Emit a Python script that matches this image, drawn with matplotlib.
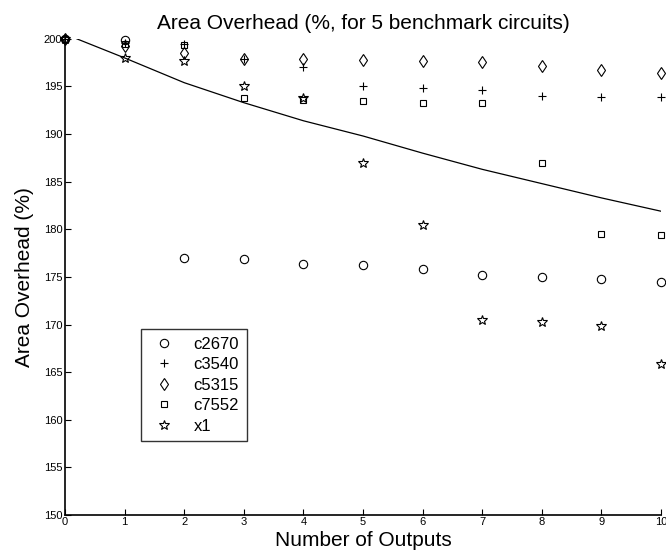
import numpy as np
import matplotlib
matplotlib.use("Agg")
import matplotlib.pyplot as plt

# ─── DATA ───────────────────────────────────────────────────────────────────
outputs = [0, 1, 2, 3, 4, 5, 6, 7, 8, 9, 10]

c2670 = [200.0, 199.9, 177.0, 176.9, 176.4, 176.3, 175.8, 175.2, 175.0, 174.8, 174.5]
c3540 = [200.0, 199.6, 199.5, 197.9, 197.0, 195.1, 194.8, 194.6, 194.0, 193.9, 193.9]
c5315 = [200.0, 199.2, 198.5, 197.9, 197.9, 197.8, 197.7, 197.6, 197.2, 196.7, 196.4]
c7552 = [200.0, 199.5, 199.4, 193.8, 193.6, 193.5, 193.3, 193.3, 187.0, 179.5, 179.4]
x1    = [200.0, 198.0, 197.7, 195.1, 193.8, 187.0, 180.5, 170.5, 170.3, 169.9, 165.9]

curve_x = [0.2, 1, 2, 3, 4, 5, 6, 7, 8, 9, 10]
curve_y = [200.0, 198.0, 195.4, 193.3, 191.4, 189.8, 188.0, 186.3, 184.8, 183.3, 181.9]

series = [
    ("c2670", c2670, "o"),
    ("c3540", c3540, "+"),
    ("c5315", c5315, "d"),
    ("c7552", c7552, "s"),
    ("x1", x1, "*"),
]

plt.rcParams["font.family"] = ["Liberation Sans", "DejaVu Sans"]

fig = plt.figure(figsize=(6.66, 5.53), dpi=100)
ax = fig.add_axes([0.0976, 0.0687, 0.895, 0.861])

sizes = {"o": 6, "+": 6, "d": 6, "s": 5, "*": 7}
for name, vals, mk in series:
    ax.plot(outputs, vals, linestyle="none", marker=mk, markersize=sizes[mk],
            markerfacecolor="none", markeredgecolor="black", markeredgewidth=0.8,
            label=name, clip_on=False)

ax.plot(curve_x, curve_y, color="black", linewidth=0.9)

ax.set_xlim(0, 10)
ax.set_ylim(150, 200)
ax.set_xticks(range(0, 11))
ax.set_yticks(range(150, 201, 5))
ax.tick_params(direction="in", length=4, labelsize=8, width=0.8)
ax.tick_params(axis="x", pad=1.5)
ax.tick_params(axis="y", pad=2)
ax.spines["top"].set_visible(False)
ax.spines["right"].set_visible(False)
ax.spines["left"].set_linewidth(1.2)
ax.spines["bottom"].set_linewidth(1.2)

ax.set_title("Area Overhead (%, for 5 benchmark circuits)", fontsize=15, pad=7)
ax.set_xlabel("Number of Outputs", fontsize=15, labelpad=3)
ax.set_ylabel("Area Overhead (%)", fontsize=15, labelpad=7)

leg = ax.legend(loc="upper left", bbox_to_anchor=(0.1275, 0.39), fontsize=12,
                frameon=True, fancybox=False, edgecolor="black", borderpad=0.45,
                handlelength=1.8, handletextpad=0.9, labelspacing=0.33,
                borderaxespad=0)
leg.get_frame().set_linewidth(1.0)

fig.savefig("out.png", dpi=100)
